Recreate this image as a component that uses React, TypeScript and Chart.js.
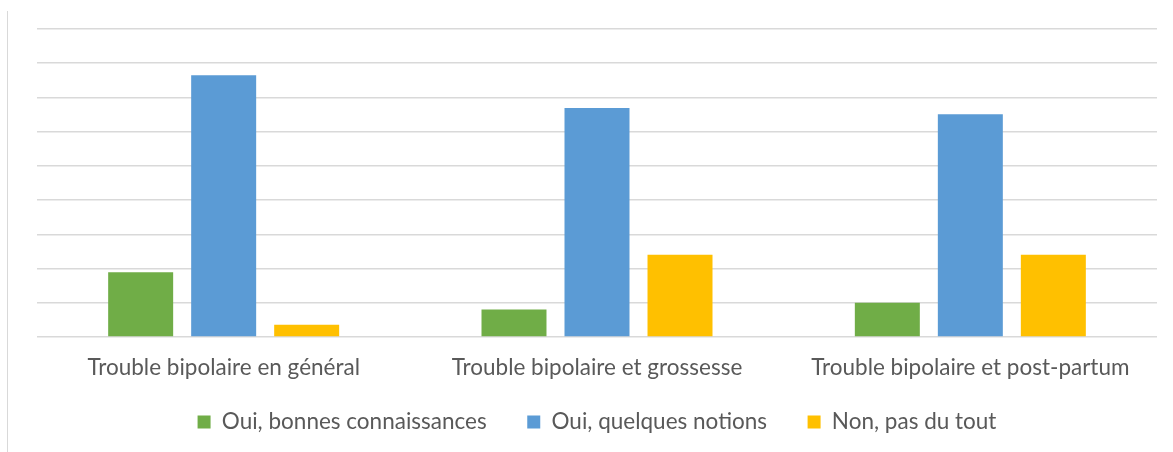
import React, { useEffect, useRef } from "react";
import { Chart, registerables } from "chart.js";

Chart.register(...registerables);

const categories = [
  "Trouble bipolaire en général",
  "Trouble bipolaire et grossesse",
  "Trouble bipolaire et post-partum",
];
const seriesNames = ["Oui, bonnes connaissances", "Oui, quelques notions", "Non, pas du tout"];
const bonnesConnaissances = [18.9, 8.0, 10.0];
const quelquesNotions = [76.5, 66.9, 65.1];
const pasDuTout = [3.6, 24.0, 24.0];
const colors = ["#70AD47", "#5B9BD5", "#FFC000"];

const FONT = "Lato, 'Open Sans', sans-serif";
const TEXT = "#595959";
const FONT_SIZE = 22.5;
const LEGEND_GAP_SPACES = "     ";

export default function App() {
  const ref = useRef<HTMLCanvasElement | null>(null);
  useEffect(() => {
    if (!ref.current) return;
    const values = [bonnesConnaissances, quelquesNotions, pasDuTout];
    const chart = new Chart(ref.current, {
      type: "bar",
      data: {
        labels: categories,
        datasets: values.map((d, i) => ({
          label: seriesNames[i],
          data: d,
          backgroundColor: colors[i],
          borderWidth: 0,
          barPercentage: 0.783,
          categoryPercentage: 0.667,
        })),
      },
      options: {
        responsive: false,
        animation: false,
        layout: { padding: { left: 37, right: 16, top: 29, bottom: 8.75 } },
        plugins: {
          tooltip: { enabled: false },
          legend: {
            position: "bottom",
            labels: {
              boxWidth: 13,
              boxHeight: 13,
              padding: 11.75,
              color: TEXT,
              font: { family: FONT, size: FONT_SIZE },
              generateLabels: (c: any) => {
                const items = Chart.defaults.plugins.legend.labels.generateLabels(c);
                return items.map((it: any, i: number) => ({
                  ...it,
                  lineWidth: 0,
                  text: i < items.length - 1 ? it.text + LEGEND_GAP_SPACES : it.text,
                }));
              },
            },
          },
        },
        scales: {
          x: {
            grid: { display: false, drawTicks: false },
            border: { display: false },
            ticks: { color: TEXT, font: { family: FONT, size: FONT_SIZE }, padding: 17.5 },
          },
          y: {
            min: 0,
            max: 90,
            ticks: { display: false, stepSize: 10 },
            grid: { color: "#D9D9D9", lineWidth: 1.5, drawTicks: false },
            border: { display: false },
            afterFit: (s: any) => {
              s.width = 0;
            },
          },
        },
      },
    });
    return () => chart.destroy();
  }, []);
  return (
    <div style={{ position: "absolute", left: 0, top: 0, width: 1173, height: 452, background: "#fff" }}>
      <div style={{ position: "absolute", left: 7, top: 11, width: 1, height: 441, background: "#D9D9D9" }} />
      <canvas ref={ref} width={1173} height={452} style={{ position: "absolute", left: 0, top: 0 }} />
    </div>
  );
}
